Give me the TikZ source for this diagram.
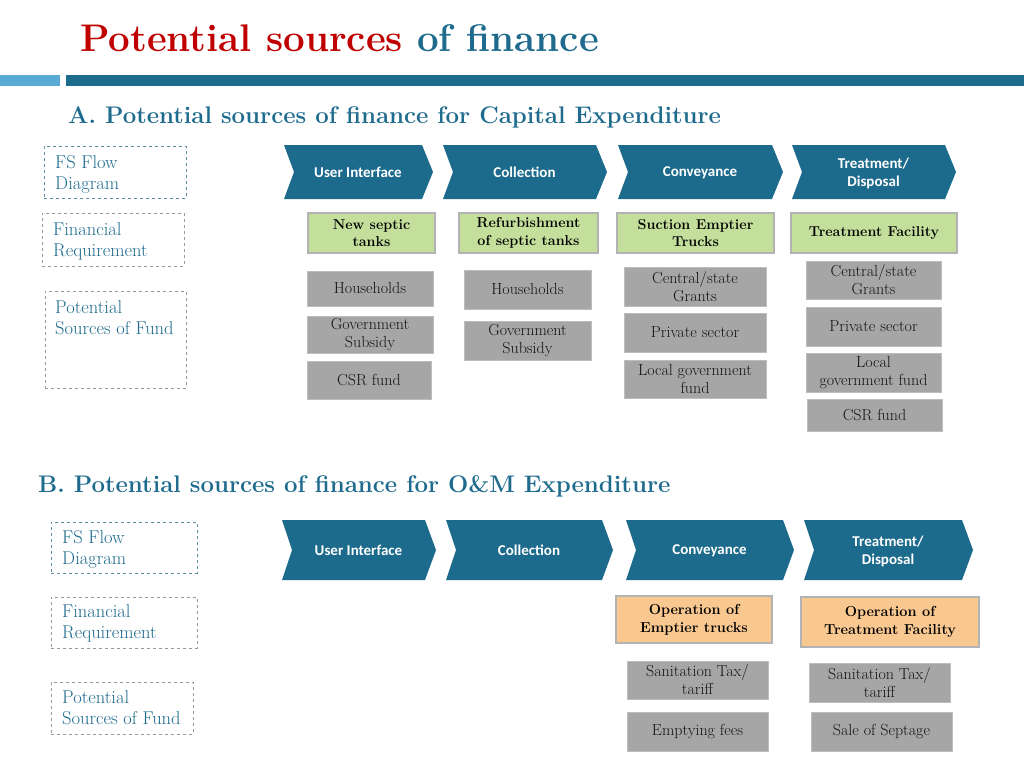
\documentclass[tikz,border=0pt]{standalone}
\usepackage{fontspec}
\newfontfamily\chevfont{Carlito}
\definecolor{titlered}{HTML}{C00000}
\definecolor{titleblue}{HTML}{1F6B8E}
\definecolor{chevblue}{HTML}{1C6A8C}
\definecolor{barlight}{HTML}{5AAAD6}
\definecolor{boxgreen}{HTML}{C4DF9B}
\definecolor{boxorange}{HTML}{F9C891}
\definecolor{boxgray}{HTML}{A6A6A6}
\definecolor{grayedge}{HTML}{BDBDBD}
\definecolor{coledge}{HTML}{B3B3B3}
\definecolor{graytext}{HTML}{141414}
\definecolor{dashblue}{HTML}{5E8DA6}
\definecolor{dashgray}{HTML}{9A9A9A}
\newcommand\mkchev[6]{%
  \fill[chevblue] (#2,#4) -- (#3,#4) -- ({#3+11},{(#4+#5)/2}) -- (#3,#5) -- (#2,#5) -- ({#2+10},{(#4+#5)/2}) -- cycle;
  \node[chevtext] (#1) at ({(#2+#3)/2+5},{(#4+#5)/2}) {#6};}
\begin{document}
\begin{tikzpicture}[x=1pt,y=-1pt,
  chevtext/.style={text=white, font=\chevfont\bfseries\fontsize{15}{18.5}\selectfont, align=center, inner sep=0pt, text depth=0pt},
  greenbox/.style={fill=boxgreen, draw=coledge, line width=1.6pt, font=\bfseries\fontsize{14.3}{17.5}\selectfont, align=center, inner sep=0pt},
  orangebox/.style={fill=boxorange, draw=coledge, line width=1.6pt, font=\bfseries\fontsize{14.5}{18}\selectfont, align=center, inner sep=0pt},
  graybox/.style={fill=boxgray, draw=grayedge, line width=0.8pt, text=graytext, font=\fontsize{16}{18}\selectfont, align=center, inner sep=0pt},
  dashbox/.style={draw=dashgray, dashed, line width=0.8pt, anchor=north west, inner sep=0pt},
  dashboxb/.style={draw=dashblue, dashed, line width=0.8pt, anchor=north west, inner sep=0pt},
  sidetext/.style={text=titleblue, font=\fontsize{18.5}{21}\selectfont, align=left, anchor=north west, inner sep=0pt},
  heading/.style={text=titleblue, font=\bfseries\fontsize{24}{28}\selectfont, anchor=base west, inner sep=0pt}
]
\useasboundingbox (0,0) rectangle (1024,768);
\fill[white] (0,0) rectangle (1024,768);
% title
\node[anchor=base west, inner sep=0pt, font=\bfseries\fontsize{38.5}{44}\selectfont] (title) at (80,52)
  {\textcolor{titlered}{Potential sources} \textcolor{titleblue}{of finance}};
\fill[barlight] (0,75) rectangle (60,86);
\fill[chevblue] (66,75) rectangle (1024,86);
% headings
\node[heading] (headA) at (68,123) {A. Potential sources of finance for Capital Expenditure};
\node[heading] (headB) at (38,492) {B. Potential sources of finance for O\&M Expenditure};

% ---------- section A ----------
\node[dashboxb, minimum width=142pt, minimum height=52pt] (fsA) at (44,146) {};
\node[sidetext] (fsAt) at (55,155) {FS Flow\\Diagram};
\node[dashbox, minimum width=142pt, minimum height=53pt] (frA) at (42,213) {};
\node[sidetext] (frAt) at (53,222) {Financial\\Requirement};
\node[dashbox, minimum width=141pt, minimum height=97pt] (psA) at (45,291) {};
\node[sidetext] (psAt) at (55,300) {Potential\\Sources of Fund};

\mkchev{cA1}{284}{422}{145}{199}{User Interface}
\mkchev{cA2}{443}{596}{145}{199}{Collection}
\mkchev{cA3}{618}{772}{145}{199}{Conveyance}
\mkchev{cA4}{792}{945}{145}{199}{Treatment/\\Disposal}

\node[greenbox, minimum width=127pt, minimum height=40pt] (gA1) at (371.5,233) {New septic\\tanks};
\node[greenbox, minimum width=139pt, minimum height=40pt] (gA2) at (528.5,233) {Refurbishment\\of septic tanks};
\node[greenbox, minimum width=157pt, minimum height=40pt] (gA3) at (695.5,233) {Suction Emptier\\Trucks};
\node[greenbox, minimum width=166pt, minimum height=40pt] (gA4) at (874,233) {Treatment Facility};

\node[graybox, minimum width=126pt, minimum height=35pt] (hh1) at (370,288.5) {Households};
\node[graybox, minimum width=126pt, minimum height=37pt] (gs1) at (370,334.5) {Government\\Subsidy};
\node[graybox, minimum width=124pt, minimum height=38pt] (csr1) at (369,380) {CSR fund};

\node[graybox, minimum width=127pt, minimum height=39pt] (hh2) at (527.5,289.5) {Households};
\node[graybox, minimum width=127pt, minimum height=39pt] (gs2) at (527.5,340.5) {Government\\Subsidy};

\node[graybox, minimum width=142pt, minimum height=39pt] (cg3) at (695,286.5) {Central/state\\Grants};
\node[graybox, minimum width=142pt, minimum height=39pt] (ps3) at (695,332.5) {Private sector};
\node[graybox, minimum width=142pt, minimum height=38pt] (lg3) at (695,379) {Local government\\fund};

\node[graybox, minimum width=135pt, minimum height=38pt] (cg4) at (873.5,280) {Central/state\\Grants};
\node[graybox, minimum width=135pt, minimum height=39pt] (ps4) at (873.5,326.5) {Private sector};
\node[graybox, minimum width=135pt, minimum height=39pt] (lg4) at (873.5,372.5) {Local\\government fund};
\node[graybox, minimum width=135pt, minimum height=32pt] (csr4) at (874.5,415) {CSR fund};

% ---------- section B ----------
\node[dashboxb, minimum width=146pt, minimum height=51pt] (fsB) at (51,522) {};
\node[sidetext] (fsBt) at (62,530) {FS Flow\\Diagram};
\node[dashbox, minimum width=146pt, minimum height=51pt] (frB) at (51,597) {};
\node[sidetext] (frBt) at (62,604) {Financial\\Requirement};
\node[dashbox, minimum width=142pt, minimum height=52pt] (psB) at (51,682) {};
\node[sidetext] (psBt) at (62,690) {Potential\\Sources of Fund};

\mkchev{cB1}{282}{425}{520}{580}{User Interface}
\mkchev{cB2}{446}{602}{520}{580}{Collection}
\mkchev{cB3}{626}{783}{520}{580}{Conveyance}
\mkchev{cB4}{804}{962}{520}{580}{Treatment/\\Disposal}

\node[orangebox, minimum width=156pt, minimum height=47pt] (oB3) at (694,619.5) {Operation of\\Emptier trucks};
\node[orangebox, minimum width=178pt, minimum height=50pt] (oB4) at (890,622) {Operation of\\Treatment Facility};

\node[graybox, minimum width=141pt, minimum height=38pt] (st3) at (697.5,680) {Sanitation Tax/\\tariff};
\node[graybox, minimum width=141pt, minimum height=39pt] (ef3) at (697.5,731.5) {Emptying fees};
\node[graybox, minimum width=141pt, minimum height=39pt] (st4) at (879.5,682.5) {Sanitation Tax/\\tariff};
\node[graybox, minimum width=141pt, minimum height=39pt] (ss4) at (881.5,731.5) {Sale of Septage};
\end{tikzpicture}
\end{document}
